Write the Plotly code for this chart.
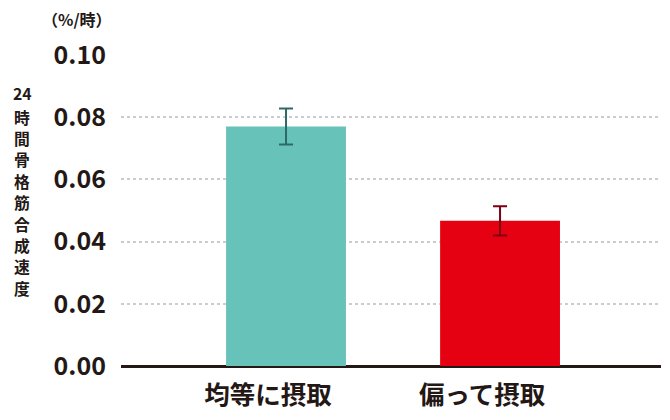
import plotly.graph_objects as go

categories = ["均等に摂取", "偏って摂取"]
values = [0.0770, 0.0467]
errors = [0.0058, 0.0047]
bar_colors = ["#67c2b9", "#e50012"]
err_colors = ["#2e6a65", "#7d0010"]
y_ticks = [0.00, 0.02, 0.04, 0.06, 0.08, 0.10]
y_title_chars = ["24", "時", "間", "骨", "格", "筋", "合", "成", "速", "度"]
unit_label = "（%/時）"

FONT = "Noto Sans CJK JP"
DARK = "#231815"

# page body has an 8px margin on every side; keep the figure inside the window.
# target plot area on the page: x 121..661, y 55..366
PL, PR, PT, PB = 121, 661, 55, 366
OFF = 8
W, H = 670 - 2 * OFF, 420 - 2 * OFF

fig = go.Figure()
for c, v, e, bc, ec in zip(categories, values, errors, bar_colors, err_colors):
    fig.add_trace(go.Bar(
        x=[c], y=[v], marker=dict(color=bc, line=dict(width=0)),
        width=0.56,
        error_y=dict(type="data", array=[e], visible=True, color=ec,
                     thickness=2, width=7),
        showlegend=False,
    ))

fig.update_layout(
    width=W, height=H,
    margin=dict(l=PL - OFF, r=W - (PR - OFF), t=PT - OFF, b=H - (PB - OFF), pad=0,
                autoexpand=False),
    paper_bgcolor="white", plot_bgcolor="white",
    font=dict(family=FONT, color=DARK),
    xaxis=dict(
        categoryorder="array", categoryarray=categories,
        range=[-0.771, 1.752],
        showline=False, ticks="",
        tickfont=dict(size=25.5, family=FONT, weight="bold", color=DARK),
        ticklabelstandoff=11, ticklabelshift=-18,
        showgrid=False, zeroline=False, automargin=False,
    ),
    yaxis=dict(
        range=[0, 0.1], tickvals=y_ticks,
        ticktext=[f"{t:.2f}" for t in y_ticks],
        tickfont=dict(size=25, family=FONT, weight="bold", color=DARK),
        showgrid=True, gridcolor="#cccccc", griddash="dot", gridwidth=1.5,
        zeroline=True, zerolinecolor=DARK, zerolinewidth=3,
        showline=False, ticks="", ticklabelstandoff=14, automargin=False,
    ),
)

def px_x(p):
    return (p - PL) / (PR - PL)

def px_y(p):
    return (PB - p) / (PB - PT)

centers = [93] + [117 + 21.4 * k for k in range(len(y_title_chars) - 1)]
for ch, cy in zip(y_title_chars, centers):
    fig.add_annotation(
        text=ch, xref="paper", yref="paper",
        x=px_x(22), y=px_y(cy), xanchor="center", yanchor="middle",
        showarrow=False, borderpad=0,
        font=dict(size=15.8, family=FONT, weight="bold", color=DARK),
    )
fig.add_annotation(
    text=unit_label, xref="paper", yref="paper",
    x=px_x(77), y=px_y(19.5), xanchor="center", yanchor="middle", showarrow=False,
    borderpad=0,
    font=dict(size=16, family=FONT, weight="bold", color=DARK),
)

fig.write_html("out.html")
